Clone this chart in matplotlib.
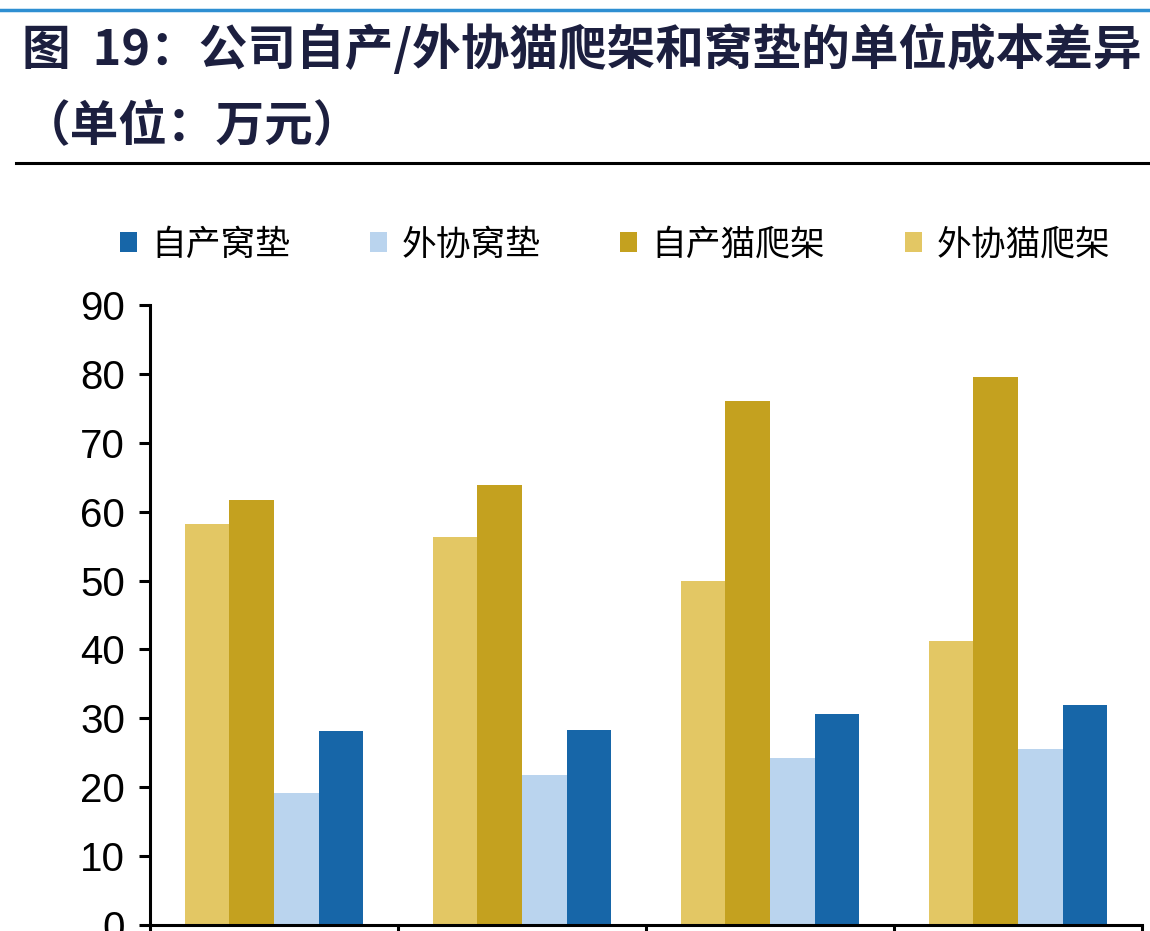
import matplotlib
matplotlib.use("Agg")
import matplotlib.pyplot as plt
from matplotlib.lines import Line2D
import numpy as np

plt.rcParams['font.family'] = ['Noto Sans CJK SC', 'DejaVu Sans']

# data
groups = ['1', '2', '3', '4']
series_names = ['外协猫爬架', '自产猫爬架', '外协窝垫', '自产窝垫']
waixie_mao = [58.2, 56.3, 50.0, 41.2]
zichan_mao = [61.7, 63.9, 76.1, 79.5]
waixie_wo = [19.1, 21.8, 24.2, 25.6]
zichan_wo = [28.2, 28.3, 30.6, 31.9]
yticks = [0, 10, 20, 30, 40, 50, 60, 70, 80, 90]

colors = ['#E3C764', '#C4A11F', '#BAD4EE', '#1766A8']
title1 = '图  19：公司自产/外协猫爬架和窝垫的单位成本差异'
title2 = '（单位：万元）'

fig = plt.figure(figsize=(11.5, 9.31), dpi=100)

# decorative rules
fig.add_artist(Line2D([0, 1], [1 - 10 / 931, 1 - 10 / 931], color='#2E8FD2', lw=2.5))
fig.add_artist(Line2D([16 / 1150, 1], [1 - 163 / 931, 1 - 163 / 931], color='black', lw=2.2))

fig.text(22 / 1150, 1 - 50 / 931, title1, fontsize=35, fontweight='bold',
         color='#1C1F3F', va='center', ha='left')
fig.text(22 / 1150, 1 - 127 / 931, title2, fontsize=35, fontweight='bold',
         color='#1C1F3F', va='center', ha='left')

ax = fig.add_axes([150 / 1150, 6 / 931, (1142 - 150) / 1150, (925 - 305) / 931])

x = np.arange(len(groups))
w = 0.18
data = [waixie_mao, zichan_mao, waixie_wo, zichan_wo]
bars = []
for i, (vals, name, c) in enumerate(zip(data, series_names, colors)):
    b = ax.bar(x + (i - 1.5) * w, vals, w, color=c, label=name)
    bars.append(b)

ax.set_xlim(-0.5, 3.5)
ax.set_ylim(0, 90)
ax.set_yticks(yticks)
ax.set_xticks(np.arange(-0.5, 3.6, 1.0))
ax.set_xticklabels([])
for s in ['top', 'right']:
    ax.spines[s].set_visible(False)
for s in ['left', 'bottom']:
    ax.spines[s].set_linewidth(2.2)
ax.tick_params(axis='y', direction='out', length=8, width=2.2, pad=10)
ax.tick_params(axis='x', direction='out', length=8, width=2.2)
for lab in ax.get_yticklabels():
    lab.set_fontfamily(['Liberation Sans'])
    lab.set_fontsize(29)

handles = bars[::-1]
labels = series_names[::-1]
fig.legend(handles, labels, loc='center left', bbox_to_anchor=(106 / 1150, 1 - 245 / 931),
           ncol=4, frameon=False, fontsize=25, handlelength=0.5, handleheight=0.5,
           handletextpad=0.4, columnspacing=2.3, borderaxespad=0)

fig.savefig('out.png', dpi=100)
